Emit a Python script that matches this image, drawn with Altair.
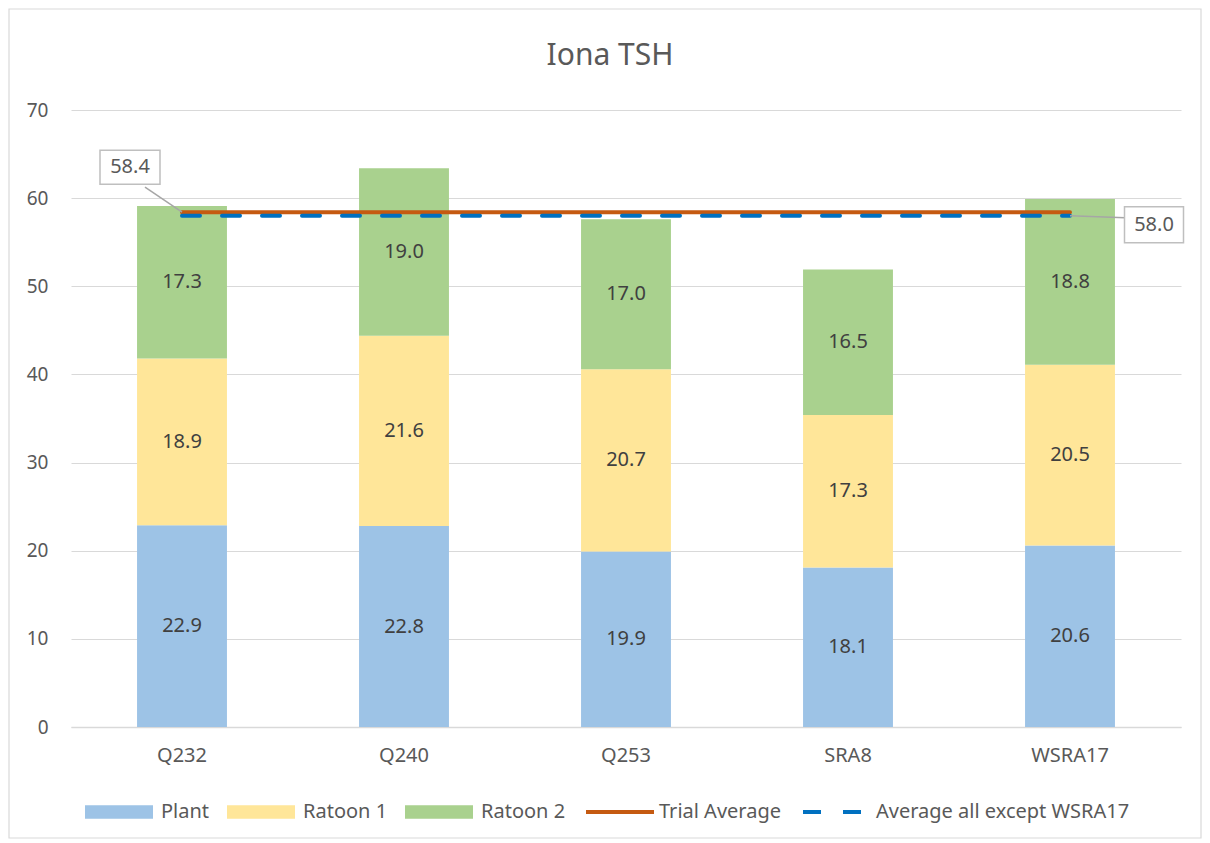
import altair as alt
import pandas as pd

categories = ["Q232", "Q240", "Q253", "SRA8", "WSRA17"]
series = ["Plant", "Ratoon 1", "Ratoon 2"]
plant = [22.9, 22.8, 19.9, 18.1, 20.6]
ratoon1 = [18.9, 21.6, 20.7, 17.3, 20.5]
ratoon2 = [17.3, 19.0, 17.0, 16.5, 18.8]
line_series = ["Trial Average", "Average all except WSRA17"]
trial_average = 58.4
average_except = 58.0
y_ticks = [0, 10, 20, 30, 40, 50, 60, 70]

bar_colors = ["#9DC3E6", "#FFE699", "#A9D18E"]
line_colors = ["#C55A11", "#0070C0"]
FONT = "Noto Sans"
TXT = "#595959"

rows = []
for i, c in enumerate(categories):
    for j, (s, vals) in enumerate(zip(series, [plant, ratoon1, ratoon2])):
        rows.append({"cat": c, "series": s, "order": j, "value": vals[i]})
bars_df = pd.DataFrame(rows)

lines_df = pd.DataFrame(
    [{"cat": c, "line": name, "value": v}
     for name, v in zip(line_series, [trial_average, average_except])
     for c in categories]
)

xenc = alt.X(
    "cat:N",
    sort=categories,
    scale=alt.Scale(domain=categories, paddingInner=0.595, paddingOuter=0.2975),
    axis=alt.Axis(title=None, labelAngle=0, ticks=False, grid=False,
                  domainColor="#D9D9D9", domainWidth=1.5, labelPadding=18,
                  labelFontSize=20, labelColor=TXT, labelFont=FONT),
)

frame = alt.Chart(pd.DataFrame({"a": [0]})).mark_rect(
    fillOpacity=0, stroke="#D9D9D9", strokeWidth=1.2
).encode(x=alt.value(-62), x2=alt.value(1130), y=alt.value(-101), y2=alt.value(728))

bars = alt.Chart(bars_df).mark_bar().encode(
    x=xenc,
    y=alt.Y("value:Q", stack="zero", scale=alt.Scale(domain=[0, 70], nice=False),
            axis=alt.Axis(title=None, values=y_ticks, domain=False, ticks=False,
                          gridColor="#D9D9D9", gridWidth=1.2, labelPadding=23,
                          labelFontSize=19, labelColor=TXT, labelFont=FONT)),
    color=alt.Color("series:N", scale=alt.Scale(domain=series, range=bar_colors),
                    legend=alt.Legend(orient="none", legendX=14, legendY=668,
                                      direction="horizontal", title=None,
                                      symbolType="M-1,-0.2H1V0.2H-1Z",
                                      symbolSize=4624, symbolStrokeWidth=0,
                                      symbolOpacity=1, labelOffset=8,
                                      columnPadding=17, labelFontSize=20,
                                      labelLimit=400,
                                      labelColor=TXT, labelFont=FONT)),
    order=alt.Order("order:Q"),
)

labels = alt.Chart(bars_df).transform_stack(
    stack="value", groupby=["cat"], as_=["y0", "y1"],
    sort=[alt.SortField("order")]
).transform_calculate(
    mid="(datum.y0 + datum.y1) / 2"
).mark_text(fontSize=20, color="#404040", font=FONT).encode(
    x=alt.X("cat:N", sort=categories),
    y=alt.Y("mid:Q"),
    text=alt.Text("value:Q", format=".1f"),
)

line_legend = alt.Legend(orient="none", legendX=513, legendY=666,
                         direction="horizontal", title=None,
                         symbolType="stroke", symbolSize=4624,
                         symbolStrokeWidth=4, labelOffset=3,
                         columnPadding=14, labelFontSize=20,
                         labelLimit=400,
                         labelColor=TXT, labelFont=FONT)

lines = alt.Chart(lines_df).mark_line(strokeWidth=4, strokeCap="round").encode(
    x=alt.X("cat:N", sort=categories),
    y=alt.Y("value:Q", stack=None),
    stroke=alt.Stroke("line:N", scale=alt.Scale(domain=line_series, range=line_colors),
                      legend=line_legend),
    strokeDash=alt.StrokeDash("line:N",
                              scale=alt.Scale(domain=line_series, range=[[1, 0], [18, 22]]),
                              legend=line_legend),
    detail="line:N",
)


def callout(cat, val, label, bx, by, leader_path, w, h):
    d = pd.DataFrame({"cat": [cat], "value": [val], "label": [label]})
    base = alt.Chart(d).encode(x=alt.X("cat:N", sort=categories), y=alt.Y("value:Q", stack=None))
    leader = base.mark_point(shape=leader_path, size=4, filled=False, stroke="#A6A6A6",
                             strokeWidth=1.5, opacity=1)
    box = base.mark_point(shape=f"M{-w/2},{-h/2}H{w/2}V{h/2}H{-w/2}Z", size=4, filled=True,
                          fill="white", stroke="#BFBFBF", strokeWidth=1.5, opacity=1,
                          xOffset=bx, yOffset=by)
    txt = base.mark_text(dx=bx, dy=by, fontSize=20, color=TXT, font=FONT).encode(text="label:N")
    return [leader, box, txt]


c1 = callout("Q232", trial_average, "58.4", -52, -45, "M0,0L-37,-25", 60, 34)
c2 = callout("WSRA17", average_except, "58.0", 84, 9, "M0,0L55,2", 59, 36)

chart = alt.layer(frame, bars, lines, labels, *c1, *c2).properties(
    width=1110,
    height=617,
    autosize=alt.AutoSizeParams(type="none"),
    padding={"left": 63, "top": 102, "right": 21, "bottom": 113},
    title=alt.Title("Iona TSH", fontSize=30, font=FONT, color=TXT,
                    fontWeight="normal", dx=-16, offset=-63),
).resolve_scale(color="independent").configure_view(stroke=None)

chart.save("out.html", embed_options={"renderer": "svg", "actions": False})
